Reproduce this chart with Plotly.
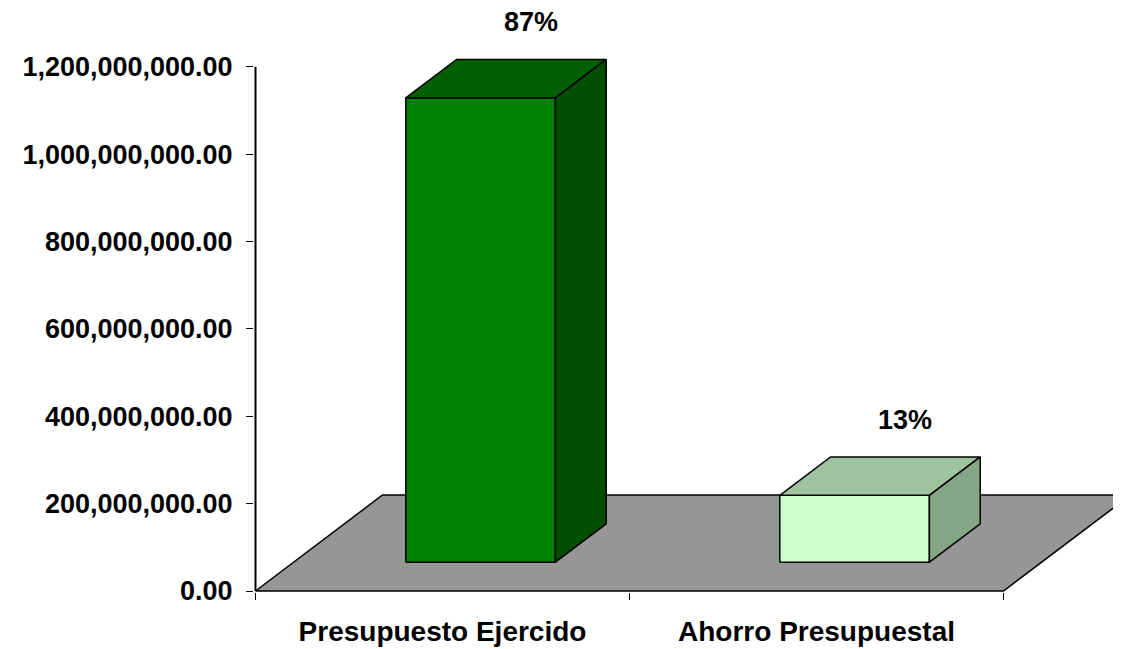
import plotly.graph_objects as go

# ---- data ----
categories = ["Presupuesto Ejercido", "Ahorro Presupuestal"]
values = [1063000000, 153000000]
y_ticks = [0, 200000000, 400000000, 600000000, 800000000, 1000000000, 1200000000]

# ---- style ----
front_colors = ["#008000", "#CCFFCC"]
top_colors = ["#005F00", "#9EC39E"]
side_colors = ["#004F00", "#85A685"]
floor_color = "#969696"
FONT = "Liberation Sans, Arial, sans-serif"

# page body has an 8px margin, so the figure is laid out 8px smaller / shifted
OFF = 8
W, H = 1121 - OFF, 649 - OFF
ML, MR, MT, MB = 254 - OFF, 0, 0, 57
PX_PER_X = 374.0            # pixels per category unit
PX_PER_V = 0.4369e-6        # pixels per value unit
AXIS_X = -0.5
AXIS_PX = 255.5 - OFF       # pixel x of category -0.5
ZERO_PX = 591.0 - OFF       # pixel y of value 0

xmin = AXIS_X - (AXIS_PX - ML) / PX_PER_X
xmax = AXIS_X + (W - MR - AXIS_PX) / PX_PER_X
vmax = (ZERO_PX - MT) / PX_PER_V
vmin = -((H - MB) - ZERO_PX) / PX_PER_V

# oblique depth vector (full floor depth) in data units
DX = 127.0 / PX_PER_X
DY = 96.0 / PX_PER_V


def proj(x, v, d):
    return x + d * DX, v + d * DY


def poly(pts, fill, line_color="black", lw=1.5):
    xs, ys = [], []
    for p in pts + [pts[0]]:
        px, py = proj(*p)
        xs.append(px)
        ys.append(py)
    return go.Scatter(x=xs, y=ys, mode="lines", fill="toself", fillcolor=fill,
                      line=dict(color=line_color, width=lw), hoverinfo="skip",
                      showlegend=False)


fig = go.Figure()

# floor
n = len(categories)
fx0, fx1 = -0.5, n - 0.5
fig.add_trace(poly([(fx0, 0, 0), (fx1, 0, 0), (fx1, 0, 1), (fx0, 0, 1)], floor_color, lw=1.5))

# y axis line
fig.add_trace(go.Scatter(x=[AXIS_X, AXIS_X], y=[0, y_ticks[-1]], mode="lines",
                         line=dict(color="black", width=2), hoverinfo="skip", showlegend=False))

# bars
half_w = 0.2
d0, d1 = 0.3, 0.7
total = sum(values)
for i, (cat, v) in enumerate(zip(categories, values)):
    x0, x1 = i - half_w, i + half_w
    fig.add_trace(poly([(x0, 0, d0), (x1, 0, d0), (x1, v, d0), (x0, v, d0)], front_colors[i]))
    fig.add_trace(poly([(x0, v, d0), (x1, v, d0), (x1, v, d1), (x0, v, d1)], top_colors[i]))
    fig.add_trace(poly([(x1, 0, d0), (x1, 0, d1), (x1, v, d1), (x1, v, d0)], side_colors[i]))
    lx, ly = proj(i, v, d1)
    fig.add_annotation(x=lx, y=ly, text=f"{round(v / total * 100)}%", showarrow=False,
                       yshift=37, yanchor="middle",
                       font=dict(family=FONT, size=27, color="black", weight="bold"))

fig.update_layout(
    width=W, height=H,
    margin=dict(l=ML, r=MR, t=MT, b=MB),
    plot_bgcolor="white", paper_bgcolor="white",
    showlegend=False,
    xaxis=dict(range=[xmin, xmax], tickmode="array", tickvals=list(range(n)),
               ticktext=categories, ticks="", showgrid=False, zeroline=False,
               showline=False,
               minor=dict(tickmode="array", tickvals=[k - 0.5 for k in range(n + 1)],
                          ticks="outside", ticklen=7, tickcolor="black", tickwidth=1,
                          showgrid=False),
               tickfont=dict(family=FONT, size=28, color="black", weight="bold"),
               ticklabelstandoff=20),
    yaxis=dict(range=[vmin, vmax], tickmode="array", tickvals=y_ticks,
               tickformat=",.2f", ticks="outside", ticklen=7, tickcolor="black",
               tickwidth=1, showgrid=False, zeroline=False, showline=False,
               tickfont=dict(family=FONT, size=27, color="black", weight="bold"),
               ticklabelstandoff=8),
)

fig.write_html("out.html")
